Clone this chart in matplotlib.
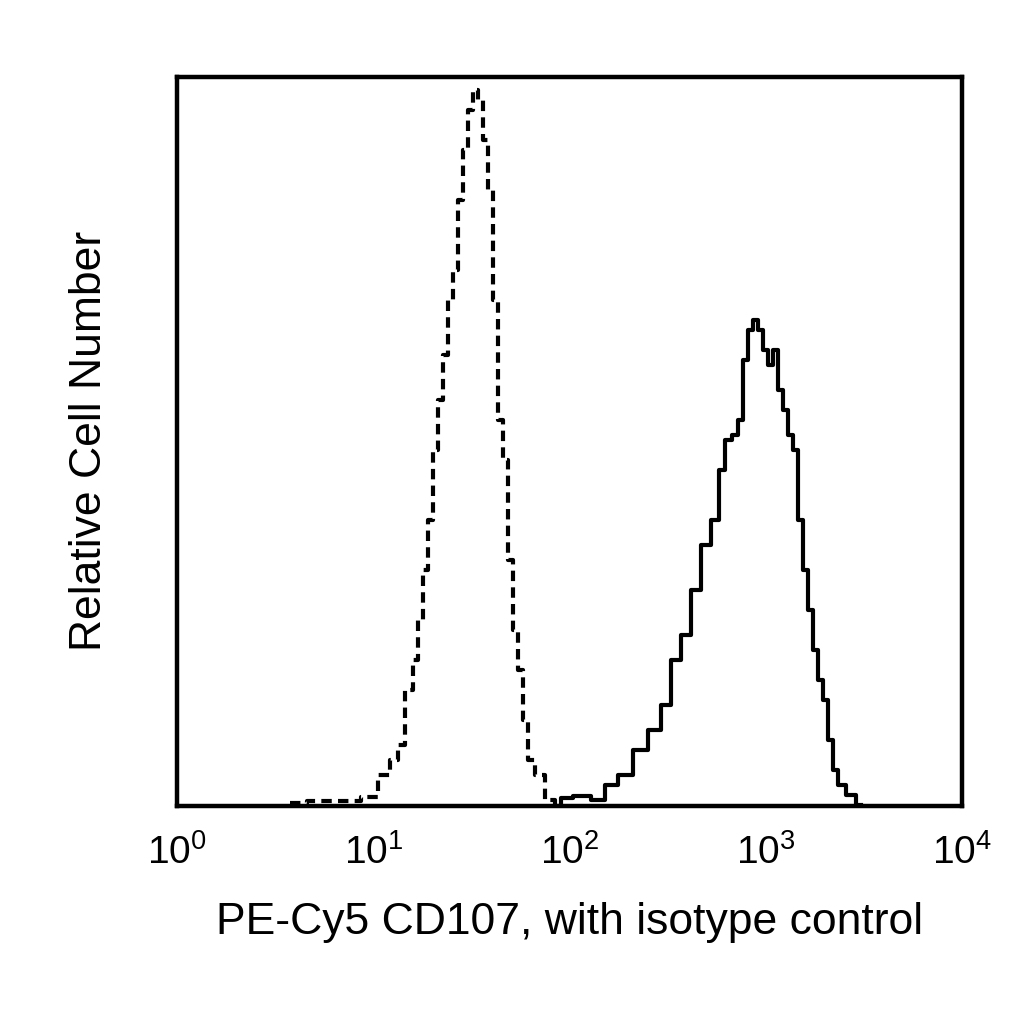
import matplotlib
matplotlib.use("Agg")
import matplotlib.pyplot as plt
import numpy as np

plt.rcParams['font.family'] = ['Liberation Sans', 'DejaVu Sans']
plt.rcParams['mathtext.fontset'] = 'custom'
plt.rcParams['mathtext.rm'] = 'Liberation Sans'
plt.rcParams['mathtext.it'] = 'Liberation Sans'

# isotype control (dashed): log10 fluorescence, relative counts
iso_log = [0.577, 0.730, 0.883, 0.985, 1.061, 1.112, 1.138, 1.189, 1.214, 1.240,
           1.265, 1.291, 1.316, 1.342, 1.367, 1.393, 1.418, 1.444, 1.469, 1.495,
           1.520, 1.546, 1.571, 1.597, 1.622, 1.648, 1.673, 1.699, 1.724, 1.750,
           1.776, 1.801, 1.852, 1.903, 1.954]
iso_cnt = [3, 5, 5, 9, 31, 46, 61, 116, 146, 186, 236, 286, 356, 406, 451, 506,
           536, 606, 656, 696, 716, 706, 666, 616, 506, 386, 346, 246, 176, 136,
           86, 46, 31, 6, 2]

# CD107 stained (solid)
cd_log = [1.929, 1.980, 2.056, 2.158, 2.209, 2.286, 2.362, 2.439, 2.490, 2.541,
          2.592, 2.643, 2.694, 2.745, 2.781, 2.811, 2.847, 2.872, 2.898, 2.923,
          2.949, 2.974, 3.000, 3.026, 3.051, 3.077, 3.102, 3.128, 3.153, 3.179,
          3.204, 3.230, 3.255, 3.281, 3.306, 3.332, 3.357, 3.383, 3.434, 3.485]
cd_cnt = [0, 8, 10, 6, 21, 31, 56, 76, 101, 146, 171, 216, 261, 286, 336, 366,
          371, 386, 446, 476, 486, 476, 456, 441, 456, 416, 396, 371, 356, 286,
          236, 196, 156, 126, 106, 66, 36, 21, 11, 1]

fig = plt.figure(figsize=(10.24, 10.24), dpi=100)
ax = fig.add_axes([0.173, 0.213, 0.766, 0.712])

ax.plot(10 ** np.array(iso_log), iso_cnt, color='black', lw=3, ls=(0, (2.5, 1.5)),
        drawstyle='steps-mid')
ax.plot(10 ** np.array(cd_log), cd_cnt, color='black', lw=3, drawstyle='steps-mid')

ax.set_xscale('log')
ax.set_xlim(1, 1e4)
ax.set_ylim(0, 729)
ax.set_xticks([1, 10, 100, 1000, 10000])
ax.set_xticklabels([r'$\mathregular{10^{%d}}$' % i for i in range(5)])
ax.minorticks_off()
ax.set_yticks([])
ax.tick_params(axis='x', length=0, labelsize=28, pad=20)
for s in ax.spines.values():
    s.set_linewidth(3.2)

ax.set_xlabel('PE-Cy5 CD107, with isotype control', fontsize=32, labelpad=22)
ax.set_ylabel('Relative Cell Number', fontsize=32, labelpad=48)

fig.savefig('out.png', dpi=100)
